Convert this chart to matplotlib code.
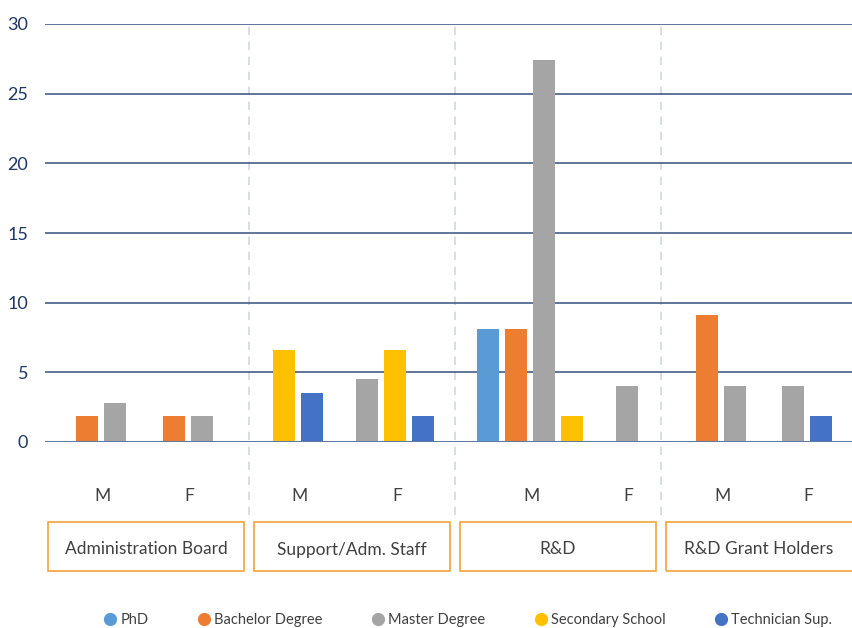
import numpy as np
import matplotlib
matplotlib.use("Agg")
import matplotlib.pyplot as plt
from matplotlib.patches import Rectangle
from matplotlib.lines import Line2D
import matplotlib.transforms as mtransforms

# ---------------- data ----------------
categories = ["Administration Board", "Support/Adm. Staff", "R&D", "R&D Grant Holders"]
genders = ["M", "F", "M", "F", "M", "F", "M", "F"]
series_names = ["PhD", "Bachelor Degree", "Master Degree", "Secondary School", "Technician Sup."]
phd        = [np.nan, np.nan, np.nan, np.nan, 8.1,  np.nan, np.nan, np.nan]
bachelor   = [1.9,    1.9,    np.nan, np.nan, 8.1,  np.nan, 9.1,    np.nan]
master     = [2.8,    1.9,    np.nan, 4.5,    27.4, 4.0,    4.0,    4.0]
secondary  = [np.nan, np.nan, 6.6,    6.6,    1.9,  np.nan, np.nan, np.nan]
technician = [np.nan, np.nan, 3.5,    1.9,    np.nan, np.nan, np.nan, 1.9]
y_ticks = [0, 5, 10, 15, 20, 25, 30]

# ---------------- style ----------------
colors = ["#5B9BD5", "#ED7D31", "#A5A5A5", "#FFC000", "#4472C4"]
FONT = ["Lato", "DejaVu Sans"]
plt.rcParams['font.family'] = FONT

W, H = 852, 628
fig = plt.figure(figsize=(W / 100, H / 100), dpi=100)
ax_left, ax_right, ax_top, ax_bottom = 45, 852, 24, 442
ax = fig.add_axes([ax_left / W, (H - ax_bottom) / H, (ax_right - ax_left) / W, (ax_bottom - ax_top) / H])

group_px = 206.0
group_start_px = 43.0
px = 1.0 / group_px  # one pixel in data units
# tick offsets inside each group (layout)
tick_offsets = [0.29, 0.71, 0.243, 0.718, 0.369, 0.84, 0.30, 0.714]
tick_x = [i // 2 + tick_offsets[i] for i in range(len(genders))]

pitch = 28 * px
bar_w = 22 * px
all_series = [phd, bachelor, master, secondary, technician]

for j, tx in enumerate(tick_x):
    present = [k for k in range(len(all_series)) if not np.isnan(all_series[k][j])]
    n = len(present)
    for idx, k in enumerate(present):
        xc = tx + (idx - (n - 1) / 2) * pitch - 1.5 * px
        ax.bar(xc, all_series[k][j], width=bar_w, color=colors[k], zorder=3, linewidth=0)

ax.set_xlim((ax_left - group_start_px) * px, (ax_right - group_start_px) * px)
ax.set_ylim(0, 30)
ax.set_yticks(y_ticks)
ax.set_yticklabels([str(v) for v in y_ticks])
for v in y_ticks[1:]:
    ax.axhline(v, color="#34507D", lw=1.1, zorder=1)
ax.axhline(0, color="#5F7BA3", lw=2.2, zorder=4)

for s in ax.spines.values():
    s.set_visible(False)
ax.tick_params(axis="y", length=0, pad=12, labelsize=13, labelcolor="#1F3864")
ax.set_xticks(tick_x)
ax.set_xticklabels(genders)
ax.tick_params(axis="x", length=0, pad=33, labelsize=12.5, labelcolor="#404040")

trans = mtransforms.blended_transform_factory(ax.transData, fig.transFigure)
# dashed dividers
for g in range(1, len(categories)):
    ax.add_line(Line2D([g, g], [(H - 515) / H, (H - ax_top) / H], transform=trans,
                       color="#D3D8DF", lw=1.2, ls=(0, (5, 4)), clip_on=False, zorder=0))
# category boxes
inset = 5 * px
box_y0 = (H - 571) / H
box_h = 49 / H
for g, name in enumerate(categories):
    r = Rectangle((g + inset, box_y0), 1 - 2 * inset, box_h, transform=trans,
                  fill=False, edgecolor="#F5A33B", lw=1.2, clip_on=False)
    ax.add_patch(r)
    cx = g + 0.5 if g < len(categories) - 1 else (g + inset + (ax_right - group_start_px) * px) / 2
    ax.text(cx, box_y0 + box_h / 2 - 3 / H, name, transform=trans, ha="center", va="center",
            fontsize=12.5, color="#404040", clip_on=False)

handles = [Line2D([], [], marker="o", ls="none", markersize=9.5, color=c, markeredgewidth=0) for c in colors]
fig.legend(handles, series_names, loc="center", bbox_to_anchor=(0.548, (H - 620) / H), ncol=5,
           frameon=False, fontsize=10.5, labelcolor="#404040", handletextpad=0.1, columnspacing=3.2,
           handlelength=1.2)

fig.savefig("out.png", dpi=100)
